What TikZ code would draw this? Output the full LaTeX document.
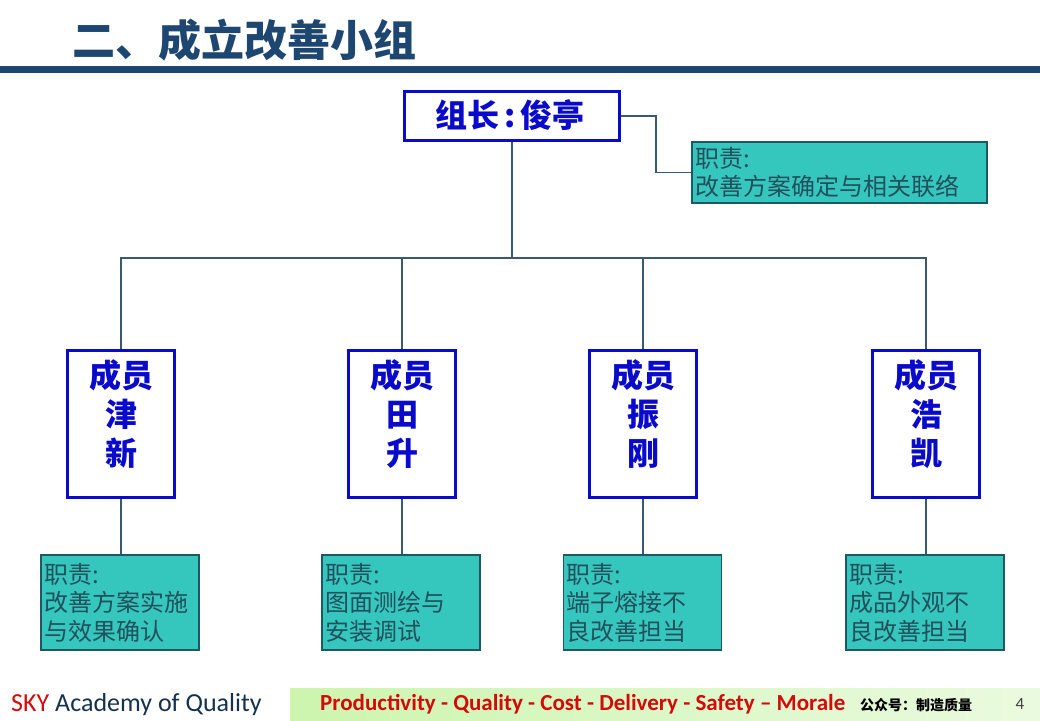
\documentclass[tikz,border=0pt]{standalone}
\usepackage{fontspec}
\newfontfamily\cjk{Noto Sans CJK SC}
\newfontfamily\carl{Carlito}
\usetikzlibrary{positioning}
\definecolor{titleblue}{HTML}{1D4670}
\definecolor{boxblue}{HTML}{0A0ACC}
\definecolor{teal1}{HTML}{35C6BE}
\definecolor{tealborder}{HTML}{1E5866}
\definecolor{dutytext}{HTML}{22505C}
\definecolor{conn}{HTML}{3A5870}
\definecolor{footred}{HTML}{D40A0A}
\definecolor{greenL}{HTML}{CDF5AE}
\definecolor{greenR}{HTML}{EAFADF}
\tikzset{
  leaderbox/.style={draw=boxblue, line width=3.5pt, fill=white, minimum width=215pt, minimum height=49pt, inner sep=0pt},
  memberbox/.style={draw=boxblue, line width=3.5pt, fill=white, minimum width=107pt, minimum height=147pt, inner sep=0pt},
  membertext/.style={text=boxblue, font=\cjk\bfseries\fontsize{32}{39}\selectfont, align=center, inner sep=0pt},
  dutybox/.style={draw=tealborder, line width=1.2pt, fill=teal1, minimum height=95pt, text width=152pt, inner xsep=3pt, inner ysep=0pt, align=left, text=dutytext, font=\cjk\fontsize{24}{28.5}\selectfont},
  conline/.style={draw=conn, line width=1.2pt},
}
\begin{document}
\begin{tikzpicture}[x=1pt,y=-1pt]
\useasboundingbox (0,0) rectangle (1040,720);
% title
\node[anchor=west, text=titleblue, font=\cjk\bfseries\fontsize{43}{43}\selectfont, inner sep=0pt] (title) at (72,40) {二、成立改善小组};
\fill[titleblue] (0,66) rectangle (1040,73);
% leader
\node[leaderbox] (lead) at (512,116) {};
\node[text=boxblue, font=\cjk\bfseries\fontsize{32}{32}\selectfont, inner sep=0pt] (leadt) at (510,115) {组长\,:\,俊亭};
\node[dutybox, minimum height=61pt, text width=289pt] (ld) at (839.5,172.5) {职责:\\改善方案确定与相关联络};
\coordinate (lk) at (656,116);
\draw[conline] (lead.east) -- (lk) |- (ld.west);
% tree
\coordinate (hub) at (512,258);
\node[memberbox] (m1) at (121,424) {};
\node[memberbox] (m2) at (402,424) {};
\node[memberbox] (m3) at (643,424) {};
\node[memberbox] (m4) at (926,424) {};
\node[membertext] (m1t) at (121,414) {成员\\津\\新};
\node[membertext] (m2t) at (402,414) {成员\\田\\升};
\node[membertext] (m3t) at (643,414) {成员\\振\\刚};
\node[membertext] (m4t) at (926,414) {成员\\浩\\凯};
\draw[conline] (lead.south) -- (hub);
\draw[conline] (m1.north) |- (hub) -| (m4.north);
\draw[conline] (m2.north) -- (m2.north |- hub);
\draw[conline] (m3.north) -- (m3.north |- hub);
% duties
\node[dutybox] (d1) at (120,602.5) {职责:\\改善方案实施\\与效果确认};
\node[dutybox] (d2) at (401,602.5) {职责:\\图面测绘与\\安装调试};
\node[dutybox] (d3) at (642.5,602.5) {职责:\\端子熔接不\\良改善担当};
\node[dutybox] (d4) at (925,602.5) {职责:\\成品外观不\\良改善担当};
\draw[conline] (m1.south) -- (m1.south |- d1.north);
\draw[conline] (m2.south) -- (m2.south |- d2.north);
\draw[conline] (m3.south) -- (m3.south |- d3.north);
\draw[conline] (m4.south) -- (m4.south |- d4.north);
% footer
\node[anchor=west, inner sep=0pt, font=\carl\fontsize{26}{26}\selectfont] (sky) at (11,705) {\textcolor{footred}{SKY} \textcolor{titleblue!70!black}{Academy of Quality}};
\shade[left color=greenL, right color=greenR] (290,688) rectangle (1040,720);
\node[anchor=west, inner sep=0pt, text=footred, font=\carl\bfseries\fontsize{23}{23}\selectfont] (pq) at (320,704) {Productivity - Quality - Cost - Delivery - Safety – Morale};
\node[anchor=west, inner sep=0pt, font=\cjk\bfseries\fontsize{14}{14}\selectfont] (gzh) at (860,705) {公众号：制造质量};
\node[inner sep=0pt, text=black!75, font=\carl\fontsize{17}{17}\selectfont] (pg) at (1020,704) {4};
\end{tikzpicture}
\end{document}
